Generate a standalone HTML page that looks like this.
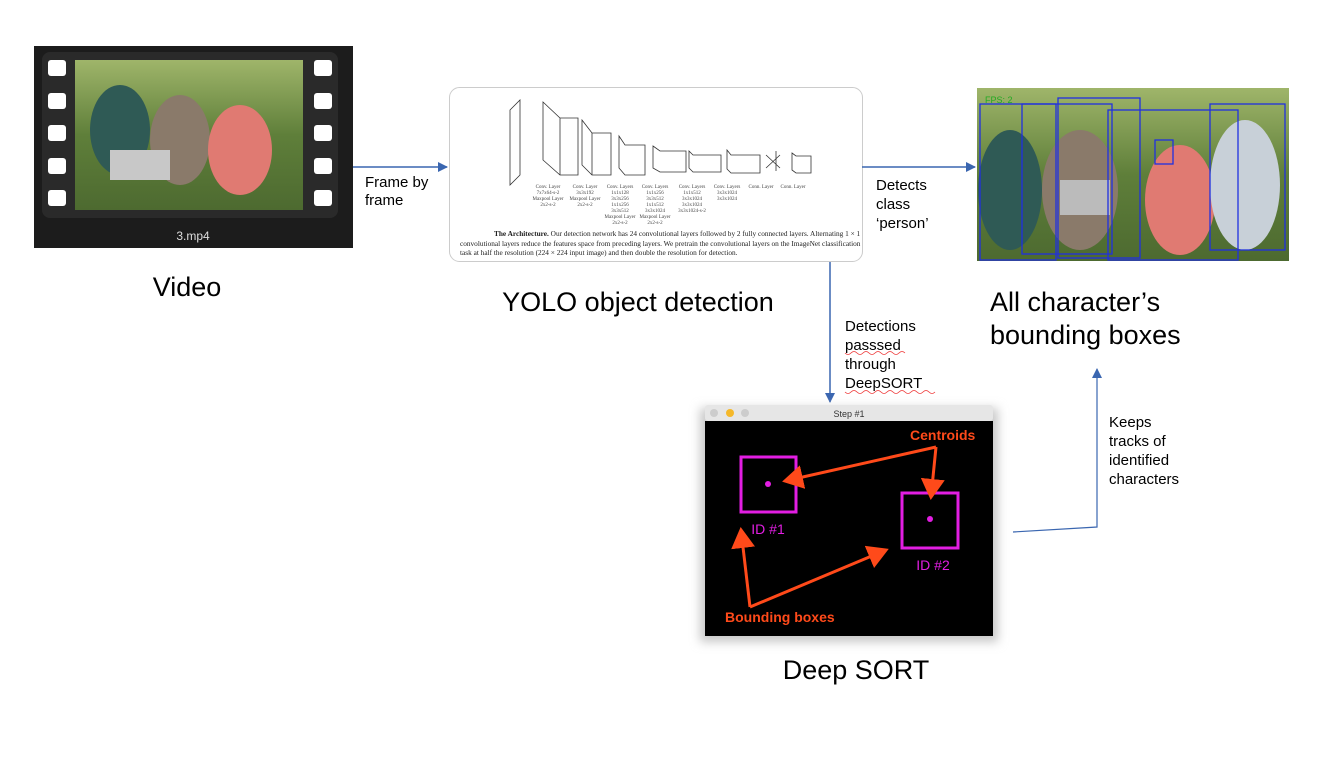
<!DOCTYPE html>
<html><head><meta charset="utf-8"><style>
body{margin:0;background:#fff;width:1318px;height:752px;overflow:hidden;font-family:"Liberation Sans",sans-serif}
</style></head><body>
<svg width="1318" height="752" xmlns="http://www.w3.org/2000/svg" font-family="Liberation Sans, sans-serif">
<defs>
<linearGradient id="ph" x1="0" y1="0" x2="0" y2="1"><stop offset="0" stop-color="#9fb56a"/><stop offset="0.5" stop-color="#5f7f3a"/><stop offset="1" stop-color="#4d6a30"/></linearGradient>
<marker id="ar" markerWidth="10" markerHeight="10" refX="9" refY="5" orient="auto" markerUnits="userSpaceOnUse"><path d="M0,0 L10,5 L0,10 z" fill="#3a66b0"/></marker>
<marker id="oa" markerWidth="8" markerHeight="8" refX="6" refY="4" orient="auto"><path d="M0,0 L7,4 L0,8 z" fill="#ff4a1a"/></marker>
<filter id="sh" x="-10%" y="-10%" width="120%" height="125%"><feGaussianBlur stdDeviation="5"/></filter>
</defs>
<!-- Video -->
<rect x="34" y="46" width="319" height="202" fill="#1c1c1c"/>
<rect x="42" y="52" width="296" height="166" rx="8" fill="#2a2a2a"/>
<rect x="75" y="60" width="228" height="150" fill="url(#ph)"/>
<ellipse cx="120" cy="130" rx="30" ry="45" fill="#2f5a55"/>
<ellipse cx="180" cy="140" rx="30" ry="45" fill="#8a7a6a"/>
<ellipse cx="240" cy="150" rx="32" ry="45" fill="#e07a72"/>
<rect x="110" y="150" width="60" height="30" fill="#c8c8c8"/>
<g fill="#fff">
<rect x="48" y="60" width="18" height="16" rx="3"/><rect x="48" y="93" width="18" height="16" rx="3"/><rect x="48" y="125" width="18" height="16" rx="3"/><rect x="48" y="158" width="18" height="16" rx="3"/><rect x="48" y="190" width="18" height="16" rx="3"/>
<rect x="314" y="60" width="18" height="16" rx="3"/><rect x="314" y="93" width="18" height="16" rx="3"/><rect x="314" y="125" width="18" height="16" rx="3"/><rect x="314" y="158" width="18" height="16" rx="3"/><rect x="314" y="190" width="18" height="16" rx="3"/>
</g>
<text x="193" y="240" fill="#ddd" font-size="12" text-anchor="middle">3.mp4</text>
<text x="187" y="296" font-size="27" text-anchor="middle">Video</text>
<!-- arrow 1 -->
<line x1="353" y1="167" x2="447" y2="167" stroke="#3a66b0" stroke-width="1.5" marker-end="url(#ar)"/>
<text x="365" y="187" font-size="15">Frame by</text><text x="365" y="205" font-size="15">frame</text>
<!-- YOLO -->
<rect x="449.5" y="87.5" width="413" height="174" rx="10" fill="#fff" stroke="#ccc"/>
<g stroke="#333" fill="none" stroke-width="0.8">
<path d="M510,110 L520,100 L520,175 L510,185 z"/>
<path d="M543,102 L560,118 L578,118 L578,175 L560,175 L543,160 z M560,118 L560,175"/>
<path d="M582,120 L592,133 L611,133 L611,175 L592,175 L582,165 z M592,133 L592,175"/>
<path d="M619,136 L625,145 L645,145 L645,175 L625,175 L619,168 z"/>
<path d="M653,146 L660,151 L686,151 L686,172 L660,172 L653,168 z"/>
<path d="M689,151 L693,155 L721,155 L721,172 L693,172 L689,168 z"/>
<path d="M727,150 L731,155 L760,155 L760,173 L731,173 L727,169 z"/>
<path d="M766,155 L780,168 M766,168 L780,155 M776,151 L776,171"/>
<path d="M792,153 L796,156 L811,156 L811,173 L796,173 L792,170 z"/>
</g>
<g font-size="5" fill="#444" text-anchor="middle" font-family="Liberation Serif,serif">
<text x="548" y="188">Conv. Layer</text><text x="548" y="194">7x7x64-s-2</text><text x="548" y="200">Maxpool Layer</text><text x="548" y="206">2x2-s-2</text>
<text x="585" y="188">Conv. Layer</text><text x="585" y="194">3x3x192</text><text x="585" y="200">Maxpool Layer</text><text x="585" y="206">2x2-s-2</text>
<text x="620" y="188">Conv. Layers</text><text x="620" y="194">1x1x128</text><text x="620" y="200">3x3x256</text><text x="620" y="206">1x1x256</text><text x="620" y="212">3x3x512</text><text x="620" y="218">Maxpool Layer</text><text x="620" y="224">2x2-s-2</text>
<text x="655" y="188">Conv. Layers</text><text x="655" y="194">1x1x256</text><text x="655" y="200">3x3x512</text><text x="655" y="206">1x1x512</text><text x="655" y="212">3x3x1024</text><text x="655" y="218">Maxpool Layer</text><text x="655" y="224">2x2-s-2</text>
<text x="692" y="188">Conv. Layers</text><text x="692" y="194">1x1x512</text><text x="692" y="200">3x3x1024</text><text x="692" y="206">3x3x1024</text><text x="692" y="212">3x3x1024-s-2</text>
<text x="727" y="188">Conv. Layers</text><text x="727" y="194">3x3x1024</text><text x="727" y="200">3x3x1024</text>
<text x="761" y="188">Conn. Layer</text><text x="793" y="188">Conn. Layer</text>
</g>
<g font-size="7.3" fill="#222" font-family="Liberation Serif,serif">
<text x="494" y="236"><tspan font-weight="bold">The Architecture.</tspan> Our detection network has 24 convolutional layers followed by 2 fully connected layers. Alternating 1 × 1</text>
<text x="460" y="246">convolutional layers reduce the features space from preceding layers. We pretrain the convolutional layers on the ImageNet classification</text>
<text x="460" y="255">task at half the resolution (224 × 224 input image) and then double the resolution for detection.</text>
</g>
<text x="638" y="311" font-size="27" text-anchor="middle">YOLO object detection</text>
<!-- arrow 2 -->
<line x1="862" y1="167" x2="975" y2="167" stroke="#3a66b0" stroke-width="1.5" marker-end="url(#ar)"/>
<text x="876" y="190" font-size="15">Detects</text><text x="876" y="209" font-size="15">class</text><text x="876" y="228" font-size="15">‘person’</text>
<!-- bounding box image -->
<rect x="977" y="88" width="312" height="173" fill="url(#ph)"/>
<ellipse cx="1010" cy="190" rx="32" ry="60" fill="#2f5a55"/>
<ellipse cx="1080" cy="190" rx="38" ry="60" fill="#8a7a6a"/>
<ellipse cx="1180" cy="200" rx="35" ry="55" fill="#e07a72"/>
<ellipse cx="1245" cy="185" rx="35" ry="65" fill="#c8d0d8"/>
<rect x="1060" y="180" width="50" height="35" fill="#bbb"/>
<g stroke="#2030e0" fill="none" stroke-width="1.3">
<rect x="980" y="104" width="76" height="156"/><rect x="1022" y="104" width="90" height="150"/><rect x="1058" y="98" width="82" height="160"/><rect x="1108" y="110" width="130" height="150"/><rect x="1210" y="104" width="75" height="146"/><rect x="1155" y="140" width="18" height="24"/>
</g>
<text x="985" y="103" font-size="9" fill="#2a2">FPS: 2</text>
<text x="990" y="311" font-size="27">All character’s</text>
<text x="990" y="344" font-size="27">bounding boxes</text>
<!-- arrow 3 -->
<line x1="830" y1="262" x2="830" y2="402" stroke="#3a66b0" stroke-width="1.5" marker-end="url(#ar)"/>
<g font-size="15"><text x="845" y="331">Detections</text><text x="845" y="350">passsed</text><text x="845" y="369">through</text><text x="845" y="388">DeepSORT</text></g>
<path d="M845,353 q3,3 6,0 t6,0 t6,0 t6,0 t6,0 t6,0 t6,0 t6,0 t6,0 t6,0 M845,392 q3,3 6,0 t6,0 t6,0 t6,0 t6,0 t6,0 t6,0 t6,0 t6,0 t6,0 t6,0 t6,0 t6,0 t6,0 t6,0" stroke="#e33" fill="none" stroke-width="0.8"/>
<!-- Deep SORT window -->
<rect x="700" y="408" width="298" height="234" fill="#c8c8c8" filter="url(#sh)"/>
<rect x="705" y="405" width="288" height="16" rx="3" fill="#e6e6e6"/>
<circle cx="714" cy="413" r="4" fill="#ccc"/><circle cx="730" cy="413" r="4" fill="#f5b82a"/><circle cx="745" cy="413" r="4" fill="#ccc"/>
<text x="849" y="417" font-size="9" fill="#333" text-anchor="middle">Step #1</text>
<rect x="705" y="421" width="288" height="215" fill="#000"/>
<rect x="741" y="457" width="55" height="55" fill="none" stroke="#e21ee2" stroke-width="3"/>
<circle cx="768" cy="484" r="3" fill="#e21ee2"/>
<rect x="902" y="493" width="56" height="55" fill="none" stroke="#e21ee2" stroke-width="3"/>
<circle cx="930" cy="519" r="3" fill="#e21ee2"/>
<text x="768" y="534" font-size="14" fill="#e21ee2" text-anchor="middle">ID #1</text>
<text x="933" y="570" font-size="14" fill="#e21ee2" text-anchor="middle">ID #2</text>
<g stroke="#ff4a1a" stroke-width="3" fill="none">
<line x1="936" y1="447" x2="785" y2="481" marker-end="url(#oa)"/>
<line x1="936" y1="447" x2="931" y2="497" marker-end="url(#oa)"/>
<line x1="750" y1="607" x2="741" y2="530" marker-end="url(#oa)"/>
<line x1="750" y1="607" x2="886" y2="550" marker-end="url(#oa)"/>
</g>
<text x="910" y="440" font-size="14" font-weight="bold" fill="#ff4a1a">Centroids</text>
<text x="725" y="622" font-size="14" font-weight="bold" fill="#ff4a1a">Bounding boxes</text>
<text x="856" y="679" font-size="27" text-anchor="middle">Deep SORT</text>
<!-- arrow 4 -->
<polyline points="1013,532 1097,527 1097,369" fill="none" stroke="#3a66b0" stroke-width="1.2" marker-end="url(#ar)"/>
<g font-size="15"><text x="1109" y="427">Keeps</text><text x="1109" y="446">tracks of</text><text x="1109" y="465">identified</text><text x="1109" y="484">characters</text></g>
</svg>
</body></html>
